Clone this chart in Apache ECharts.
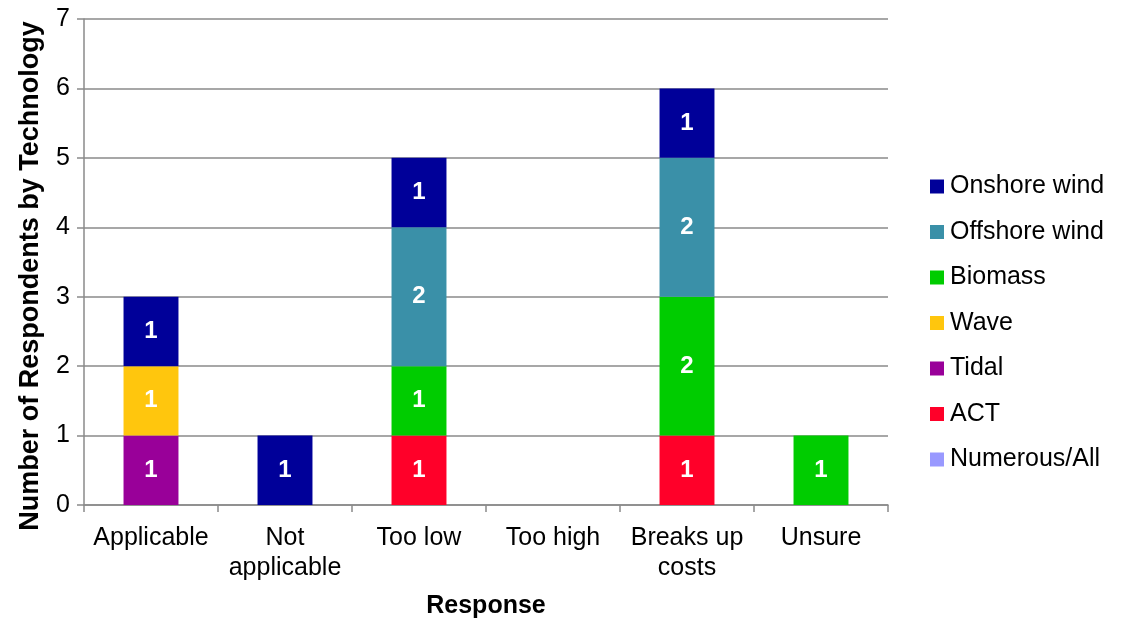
<!DOCTYPE html>
<html>
<head>
<meta charset="utf-8">
<script src="https://cdn.jsdelivr.net/npm/echarts@6/dist/echarts.min.js"></script>
<style>
  html, body { margin: 0; padding: 0; background: #fff; }
  #chart { width: 1125px; height: 619px; }
</style>
</head>
<body>
<div id="chart"></div>
<script>
// Responses to the question, one column each
const categories = ['Applicable', 'Not\napplicable', 'Too low', 'Too high', 'Breaks up\ncosts', 'Unsure'];

// Respondent counts per technology (null = no respondents)
const onshoreWind   = [1, 1, 1, null, 1, null];
const offshoreWind  = [null, null, 2, null, 2, null];
const biomass       = [null, null, 1, null, 2, 1];
const wave          = [1, null, null, null, null, null];
const tidal         = [1, null, null, null, null, null];
const act           = [null, null, 1, null, 1, null];
const numerousAll   = [null, null, null, null, null, null];

const yTicks = [0, 1, 2, 3, 4, 5, 6, 7];

// Stack order, bottom to top
const stackSeries = [
  { name: 'Numerous/All',  data: numerousAll,  color: '#9999FF' },
  { name: 'ACT',           data: act,          color: '#FF0029' },
  { name: 'Tidal',         data: tidal,        color: '#990099' },
  { name: 'Wave',          data: wave,         color: '#FFC60D' },
  { name: 'Biomass',       data: biomass,      color: '#00CC00' },
  { name: 'Offshore wind', data: offshoreWind, color: '#3A90A8' },
  { name: 'Onshore wind',  data: onshoreWind,  color: '#000099' }
];

const font = 'Liberation Sans, Arial, sans-serif';
const fs = 25;
const gridColor = '#8a8a8a';

const chart = echarts.init(document.getElementById('chart'), null, { renderer: 'canvas' });

chart.setOption({
  animation: false,
  backgroundColor: '#ffffff',
  textStyle: { fontFamily: font },
  grid: { left: 84, right: 237, top: 19, bottom: 114, outerBoundsMode: 'none', containLabel: false },
  legend: {
    orient: 'vertical',
    left: 930,
    top: 174,
    padding: 0,
    itemWidth: 14,
    itemHeight: 14,
    itemGap: 20.5,
    icon: 'rect',
    data: stackSeries.map(s => s.name).reverse(),
    textStyle: { fontSize: fs, color: '#000', fontFamily: font, lineHeight: 25, padding: [0, 0, 0, 1] }
  },
  xAxis: {
    type: 'category',
    data: categories,
    name: 'Response',
    nameLocation: 'middle',
    nameGap: 89,
    nameTextStyle: { fontSize: fs, fontWeight: 'bold', color: '#000', fontFamily: font },
    axisLine: { show: true, lineStyle: { color: gridColor, width: 1.5 } },
    axisTick: { show: true, length: 7, interval: 0, alignWithLabel: false, lineStyle: { color: gridColor, width: 1.5 } },
    axisLabel: { fontSize: fs, color: '#000', margin: 18, lineHeight: 30, interval: 0, fontFamily: font }
  },
  yAxis: {
    type: 'value',
    min: yTicks[0],
    max: yTicks[yTicks.length - 1],
    interval: 1,
    name: 'Number of Respondents by Technology',
    nameLocation: 'middle',
    nameGap: 40,
    nameTextStyle: { fontSize: 27, fontWeight: 'bold', color: '#000', fontFamily: font, padding: [0, 28, 0, 0] },
    axisLine: { show: true, lineStyle: { color: gridColor, width: 1.5 } },
    axisTick: { show: true, length: 7, lineStyle: { color: gridColor, width: 1.5 } },
    axisLabel: { fontSize: fs, color: '#000', margin: 14, fontFamily: font },
    splitLine: { show: true, lineStyle: { color: gridColor, width: 1.5 } }
  },
  series: stackSeries.map(s => ({
    name: s.name,
    type: 'bar',
    stack: 'total',
    data: s.data,
    barCategoryGap: '59%',
    itemStyle: { color: s.color },
    label: {
      show: true,
      position: 'inside',
      color: '#fff',
      fontSize: 24,
      fontWeight: 'bold',
      fontFamily: font,
      formatter: p => (p.value == null ? '' : String(p.value))
    }
  }))
});
</script>
</body>
</html>
